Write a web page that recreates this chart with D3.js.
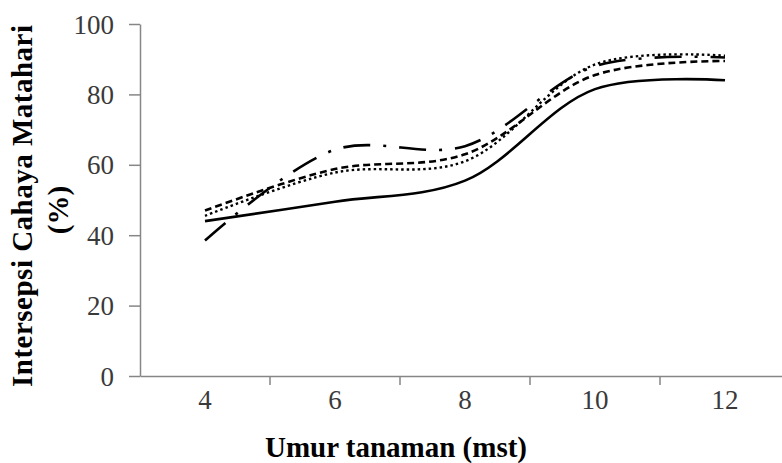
<!DOCTYPE html>
<html><head><meta charset="utf-8">
<script src="https://cdn.jsdelivr.net/npm/d3@7"></script>
<style>body{margin:0;background:#fff;}svg{display:block;}</style>
</head><body>
<svg id="c" width="782" height="463"></svg>
<script>
const weeks = ["4","6","8","10","12"];
const yTicks = [0,20,40,60,80,100];
const seriesSolid   = [44, 49.5, 55.5, 81.5, 84];
const seriesDashed  = [47, 58.8, 63, 85.5, 89.5];
const seriesDotted  = [45.5, 57.8, 61, 88.5, 91];
const seriesDashDot = [38.5, 64.3, 65.3, 88, 90.5];
const xTitle = "Umur tanaman (mst)";
const yTitle1 = "Intersepsi Cahaya Matahari";
const yTitle2 = "(%)";

const svg = d3.select("#c");
const x = d3.scaleBand().domain(weeks).range([140, 790]).padding(0);
const y = d3.scaleLinear().domain([0,100]).range([376, 24]);
const axisColor = "#868686";
const font = "'Liberation Serif','Times New Roman',serif";

// y axis
const ya = svg.append("g").attr("transform","translate(140,0)")
  .call(d3.axisLeft(y).tickValues(yTicks).tickSize(11).tickSizeOuter(0).tickPadding(15));
ya.select(".domain").attr("stroke",axisColor).attr("stroke-width",1.5);
ya.selectAll(".tick line").attr("stroke",axisColor).attr("stroke-width",1.5);
ya.selectAll(".tick text").attr("font-family",font).attr("font-size",27).attr("fill","#3a3a3a").attr("dy","0.34em");

// x axis
const xa = svg.append("g").attr("transform","translate(0,376)")
  .call(d3.axisBottom(x).tickSize(0).tickSizeOuter(0).tickPadding(14));
xa.select(".domain").attr("stroke",axisColor).attr("stroke-width",1.5);
xa.selectAll(".tick text").attr("font-family",font).attr("font-size",27).attr("fill","#3a3a3a").attr("dy","0.71em");
// band-edge tick marks
xa.selectAll(".edge").data(weeks.slice(1).concat(["end"])).enter().append("line")
  .attr("class","edge")
  .attr("x1",d=> d==="end" ? x.range()[1] : x(d))
  .attr("x2",d=> d==="end" ? x.range()[1] : x(d))
  .attr("y1",0).attr("y2",9).attr("stroke",axisColor).attr("stroke-width",1.5);

// lines
const line = d3.line()
  .x((d,i)=> x(weeks[i]) + x.bandwidth()/2)
  .y(d=> y(d))
  .curve(d3.curveCatmullRom.alpha(0.5));

const series = [
  {v: seriesSolid, dash: null, w: 2.6},
  {v: seriesDashed, dash: "7,4", w: 2.6},
  {v: seriesDotted, dash: "2.5,3", w: 2.4},
  {v: seriesDashDot, dash: "27,13,3,13", w: 2.6}
];
svg.append("g").selectAll("path").data(series).enter().append("path")
  .attr("d", d=> line(d.v))
  .attr("fill","none").attr("stroke","#000")
  .attr("stroke-width", d=> d.w)
  .attr("stroke-dasharray", d=> d.dash);

// titles
svg.append("text").attr("x",396).attr("y",457).attr("text-anchor","middle")
  .attr("font-family",font).attr("font-weight","bold").attr("font-size",29).text(xTitle);
svg.append("text").attr("transform","translate(32,206) rotate(-90)").attr("text-anchor","middle")
  .attr("font-family",font).attr("font-weight","bold").attr("font-size",29)
  .attr("textLength",362).attr("lengthAdjust","spacing").text(yTitle1);
svg.append("text").attr("transform","translate(68,210) rotate(-90)").attr("text-anchor","middle")
  .attr("font-family",font).attr("font-weight","bold").attr("font-size",29).text(yTitle2);
</script>
</body></html>
